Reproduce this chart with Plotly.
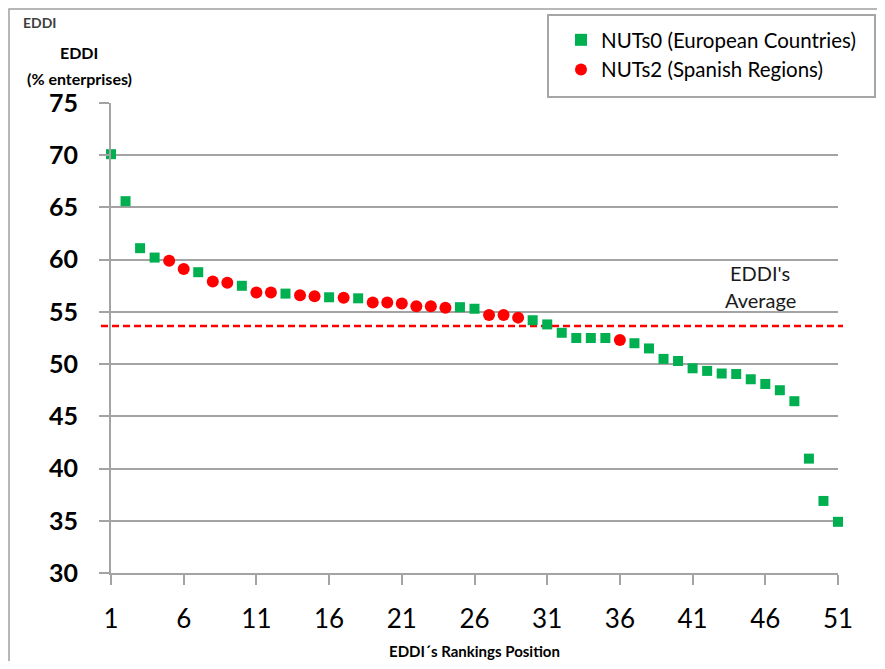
import plotly.graph_objects as go

# ---------------- data ----------------
nuts0_rank = [1, 2, 3, 4, 7, 10, 13, 16, 18, 25, 26, 30, 31, 32, 33, 34, 35,
              37, 38, 39, 40, 41, 42, 43, 44, 45, 46, 47, 48, 49, 50, 51]
nuts0_eddi = [70.1, 65.6, 61.1, 60.2, 58.8, 57.5, 56.75, 56.4, 56.3, 55.45, 55.3,
              54.2, 53.8, 53.0, 52.5, 52.5, 52.5,
              52.0, 51.5, 50.5, 50.3, 49.6, 49.35, 49.1, 49.05, 48.55, 48.1, 47.5,
              46.45, 40.95, 36.9, 34.9]

nuts2_rank = [5, 6, 8, 9, 11, 12, 14, 15, 17, 19, 20, 21, 22, 23, 24, 27, 28, 29, 36]
nuts2_eddi = [59.9, 59.1, 57.9, 57.8, 56.85, 56.85, 56.6, 56.5, 56.35, 55.9, 55.9,
              55.8, 55.55, 55.55, 55.4, 54.7, 54.7, 54.45, 52.3]

eddi_average = 53.65

x_ticks = [1, 6, 11, 16, 21, 26, 31, 36, 41, 46, 51]
y_ticks = [30, 35, 40, 45, 50, 55, 60, 65, 70, 75]

series_names = ["NUTs0 (European Countries)", "NUTs2 (Spanish Regions)"]

# ---------------- layout geometry (page pixels; body has an 8px margin) ----------------
OFF = 8
PAGE_W, PAGE_H = 885, 669
W, H = PAGE_W - 2 * OFF, PAGE_H - 2 * OFF   # avoid page scrollbars
PLOT_LEFT, PLOT_RIGHT, PLOT_TOP, PLOT_BOTTOM = 111, 838, 103, 573
L = PLOT_LEFT - OFF
T = PLOT_TOP - OFF
R = (OFF + W) - PLOT_RIGHT
B = (OFF + H) - PLOT_BOTTOM
PW = PLOT_RIGHT - PLOT_LEFT
PH = PLOT_BOTTOM - PLOT_TOP


def px(x):
    return (x - PLOT_LEFT) / PW


def py(y):
    return (PLOT_BOTTOM - y) / PH


FONT = "Lato, 'Open Sans', sans-serif"
GRID = "#A3A3A3"

fig = go.Figure()
fig.add_trace(go.Scatter(
    x=nuts0_rank, y=nuts0_eddi, mode="markers", name=series_names[0],
    marker=dict(symbol="square", size=10, color="#00B050"),
    cliponaxis=False,
))
fig.add_trace(go.Scatter(
    x=nuts2_rank, y=nuts2_eddi, mode="markers", name=series_names[1],
    marker=dict(symbol="circle", size=12, color="#FF0000"),
    cliponaxis=False,
))

fig.update_layout(
    width=W, height=H,
    margin=dict(l=L, r=R, t=T, b=B, autoexpand=False),
    paper_bgcolor="white", plot_bgcolor="white",
    font=dict(family=FONT, color="#000000"),
    showlegend=True,
    legend=dict(
        x=px(561), y=py(20), xanchor="left", yanchor="top",
        bgcolor="rgba(0,0,0,0)", borderwidth=0,
        font=dict(size=20.5, family=FONT, color="#000000"),
        itemsizing="constant",
    ),
    xaxis=dict(
        range=[1, 51], tickmode="array", tickvals=x_ticks,
        ticktext=[str(v) for v in x_ticks],
        showgrid=False, zeroline=False,
        showline=True, linecolor=GRID, linewidth=2,
        ticks="outside", ticklen=10, tickwidth=2, tickcolor=GRID,
        tickfont=dict(size=26, family=FONT, color="#000000"),
        ticklabelstandoff=12,
        title=dict(text="<b>EDDI´s Rankings Position</b>", standoff=13,
                   font=dict(size=15, family=FONT, color="#000000")),
    ),
    yaxis=dict(
        range=[30, 75], tickmode="array", tickvals=y_ticks,
        ticktext=["<b>%d</b>" % v for v in y_ticks],
        showgrid=True, gridcolor=GRID, gridwidth=1.5,
        zeroline=False,
        showline=True, linecolor=GRID, linewidth=2,
        ticks="outside", ticklen=10, tickwidth=2, tickcolor=GRID,
        tickfont=dict(size=25, family=FONT, color="#000000"),
        ticklabelstandoff=16,
    ),
    shapes=[
        # outer chart border
        dict(type="rect", xref="paper", yref="paper",
             x0=px(9), x1=px(PAGE_W + 20), y0=py(PAGE_H + 20), y1=py(9),
             line=dict(color="#A0A0A0", width=1.5), layer="below"),
        # legend box
        dict(type="rect", xref="paper", yref="paper",
             x0=px(548), x1=px(OFF + W - 2), y0=py(97), y1=py(15),
             line=dict(color="#A6A6A6", width=2), layer="above"),
        # average line
        dict(type="line", xref="paper", yref="y",
             x0=px(101), x1=px(843), y0=eddi_average, y1=eddi_average,
             line=dict(color="#FF0000", width=2.5, dash="7px,4px"),
             layer="between"),
    ],
    annotations=[
        dict(text="<b>EDDI</b>", xref="paper", yref="paper",
             x=px(21), y=py(23), xanchor="left", yanchor="middle",
             showarrow=False, font=dict(size=14, family=FONT, color="#404040")),
        dict(text="<b>EDDI</b>", xref="paper", yref="paper",
             x=px(79), y=py(53), xanchor="center", yanchor="middle",
             showarrow=False, font=dict(size=16, family=FONT, color="#000000")),
        dict(text="<b>(% enterprises)</b>", xref="paper", yref="paper",
             x=px(79), y=py(78), xanchor="center", yanchor="middle",
             showarrow=False, font=dict(size=16, family=FONT, color="#000000")),
        dict(text="EDDI's", xref="paper", yref="paper",
             x=px(760), y=py(273), xanchor="center", yanchor="middle",
             showarrow=False, font=dict(size=20, family=FONT, color="#1A1A1A")),
        dict(text="Average", xref="paper", yref="paper",
             x=px(760), y=py(300), xanchor="center", yanchor="middle",
             showarrow=False, font=dict(size=20, family=FONT, color="#1A1A1A")),
    ],
)

fig.write_html("out.html")
